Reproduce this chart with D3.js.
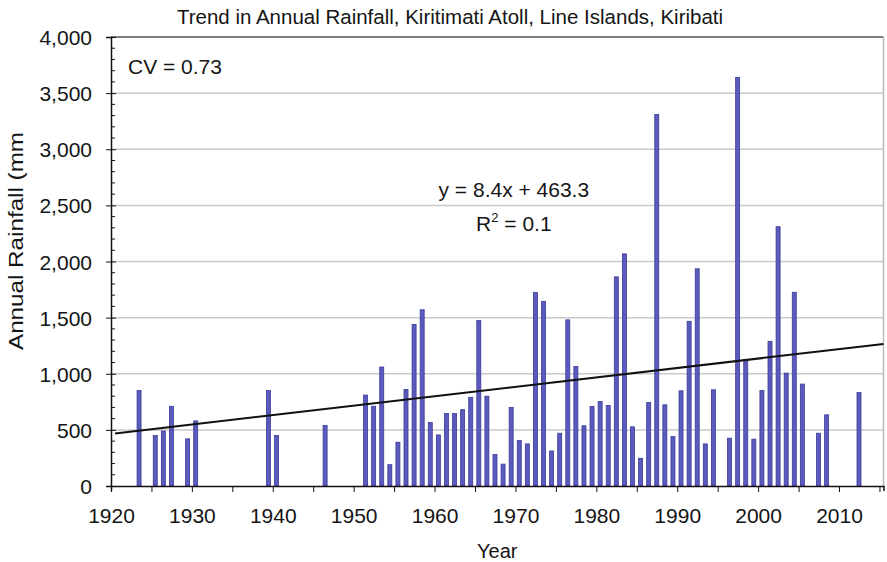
<!DOCTYPE html>
<html>
<head>
<meta charset="utf-8">
<script src="https://cdn.jsdelivr.net/npm/d3@7"></script>
<style>
  body { margin: 0; background: #fff; }
  text { font-family: "Liberation Sans", Arial, sans-serif; fill: #151515; }
</style>
</head>
<body>
<div id="wrapper"></div>
<script>
// annual rainfall (mm)
const years = [1923, 1925, 1926, 1927, 1929, 1930, 1939, 1940, 1946,
    1951, 1952, 1953, 1954, 1955, 1956, 1957, 1958, 1959, 1960,
    1961, 1962, 1963, 1964, 1965, 1966, 1967, 1968, 1969, 1970,
    1971, 1972, 1973, 1974, 1975, 1976, 1977, 1978, 1979, 1980,
    1981, 1982, 1983, 1984, 1985, 1986, 1987, 1988, 1989, 1990,
    1991, 1992, 1993, 1994, 1996, 1997, 1998, 1999, 2000,
    2001, 2002, 2003, 2004, 2005, 2007, 2008, 2012]
const rainfall = [850, 450, 490, 710, 420, 580, 850, 450, 540,
    810, 710, 1060, 190, 390, 860, 1440, 1570, 565, 455,
    645, 645, 680, 790, 1475, 800, 280, 195, 700, 405,
    375, 1725, 1645, 312, 470, 1480, 1065, 536, 708, 753,
    717, 1863, 2068, 527, 247, 744, 3310, 723, 440, 848,
    1467, 1935, 375, 857, 426, 3640, 1125, 417, 851,
    1289, 2310, 1006, 1726, 908, 470, 634, 833]
const yTicks = [0, 500, 1000, 1500, 2000, 2500, 3000, 3500, 4000]
const xTicks = [1920, 1930, 1940, 1950, 1960, 1970, 1980, 1990, 2000, 2010]
const trendSlope = 8.4
const trendIntercept = 463.3
const cv = 0.73
const r2 = 0.1

const data = years.map((y, i) => ({ year: y, value: rainfall[i] }))

let dimensions = {
    width: 887,
    height: 562,
    margin: { top: 37, right: 3.5, bottom: 76, left: 111 }
}
dimensions.boundedWidth = dimensions.width - dimensions.margin.left - dimensions.margin.right
dimensions.boundedHeight = dimensions.height - dimensions.margin.top - dimensions.margin.bottom

const svg = d3.select('#wrapper').append('svg')
    .attr('width', dimensions.width)
    .attr('height', dimensions.height)

const bounds = svg.append('g')
    .attr('transform', `translate(${dimensions.margin.left}, ${dimensions.margin.top})`)

const xScale = d3.scaleLinear()
    .domain([1920, 2015.5])
    .range([0, dimensions.boundedWidth])

const yScale = d3.scaleLinear()
    .domain([0, 4000])
    .range([dimensions.boundedHeight, 0])

// gridlines
bounds.append('g')
    .selectAll('line')
    .data(yTicks.filter(d => d > 0 && d < 4000))
    .join('line')
    .attr('x1', 0)
    .attr('x2', dimensions.boundedWidth)
    .attr('y1', d => yScale(d))
    .attr('y2', d => yScale(d))
    .attr('stroke', '#c9c9c9')
    .attr('stroke-width', 1.5)

// top and right frame
bounds.append('line')
    .attr('x1', 0).attr('x2', dimensions.boundedWidth)
    .attr('y1', 0).attr('y2', 0)
    .attr('stroke', '#555').attr('stroke-width', 1.5)
bounds.append('line')
    .attr('x1', dimensions.boundedWidth).attr('x2', dimensions.boundedWidth)
    .attr('y1', 0).attr('y2', dimensions.boundedHeight)
    .attr('stroke', '#bbb').attr('stroke-width', 1.5)

// bars
const barWidth = 4
bounds.append('g')
    .selectAll('rect')
    .data(data)
    .join('rect')
    .attr('x', d => xScale(d.year + 0.47) - barWidth / 2)
    .attr('y', d => yScale(d.value))
    .attr('width', barWidth)
    .attr('height', d => yScale(0) - yScale(d.value))
    .attr('fill', '#5b5bbd')
    .attr('stroke', '#3a3a98')
    .attr('stroke-width', 0.8)

// trend line
bounds.append('line')
    .attr('x1', xScale(1920.5))
    .attr('y1', yScale(trendIntercept + trendSlope * 0.5))
    .attr('x2', xScale(2015.5))
    .attr('y2', yScale(trendIntercept + trendSlope * 95.5))
    .attr('stroke', '#111')
    .attr('stroke-width', 2)

// y axis with minor ticks
const yAxis = d3.axisLeft(yScale)
    .tickValues(yTicks)
    .tickFormat(d3.format(','))
    .tickSize(5)
const yAxisG = bounds.append('g').call(yAxis)
yAxisG.select('.domain').attr('stroke', '#111').attr('stroke-width', 1.5)
yAxisG.selectAll('.tick line').attr('x2', -5).attr('x1', 5).attr('stroke', '#111')
yAxisG.selectAll('text').attr('x', -19).style('font-size', '21px').attr('dy', '0.36em')
const minorY = d3.range(100, 4000, 100).filter(d => d % 500 !== 0)
bounds.append('g')
    .selectAll('line')
    .data(minorY)
    .join('line')
    .attr('x1', 0).attr('x2', 4)
    .attr('y1', d => yScale(d)).attr('y2', d => yScale(d))
    .attr('stroke', '#111')

// x axis
const xAxis = d3.axisBottom(xScale)
    .tickValues(d3.range(1920, 2016, 5))
    .tickFormat(d => xTicks.includes(d) ? d : '')
    .tickSize(5)
const xAxisG = bounds.append('g')
    .attr('transform', `translate(0, ${dimensions.boundedHeight})`)
    .call(xAxis)
xAxisG.select('.domain').attr('stroke', '#111').attr('stroke-width', 1.5)
xAxisG.selectAll('.tick line').attr('y1', 0).attr('y2', 6).attr('stroke', '#111')
xAxisG.selectAll('text').attr('y', 37).attr('dy', 0).style('font-size', '21px')

// labels
svg.append('text')
    .attr('x', 450)
    .attr('y', 24)
    .attr('text-anchor', 'middle')
    .style('font-size', '20.5px')
    .text('Trend in Annual Rainfall, Kiritimati Atoll, Line Islands, Kiribati')

svg.append('text')
    .attr('transform', 'translate(23, 241) rotate(-90)')
    .attr('text-anchor', 'middle')
    .attr('textLength', 218)
    .attr('lengthAdjust', 'spacingAndGlyphs')
    .style('font-size', '20px')
    .text('Annual Rainfall (mm')

svg.append('text')
    .attr('x', dimensions.margin.left + dimensions.boundedWidth / 2)
    .attr('y', 558)
    .attr('text-anchor', 'middle')
    .style('font-size', '20px')
    .text('Year')

bounds.append('text')
    .attr('x', xScale(1922.1))
    .attr('y', yScale(3670))
    .style('font-size', '21px')
    .text(`CV = ${cv}`)

bounds.append('text')
    .attr('x', xScale(1969.8))
    .attr('y', yScale(2571))
    .attr('text-anchor', 'middle')
    .style('font-size', '21px')
    .text(`y = ${trendSlope}x + ${trendIntercept}`)

const r2Text = bounds.append('text')
    .attr('x', xScale(1969.8))
    .attr('y', yScale(2268))
    .attr('text-anchor', 'middle')
    .style('font-size', '21px')
r2Text.append('tspan').text('R')
r2Text.append('tspan').attr('dy', -9).style('font-size', '13px').text('2')
r2Text.append('tspan').attr('dy', 9).text(` = ${r2}`)
</script>
</body>
</html>
